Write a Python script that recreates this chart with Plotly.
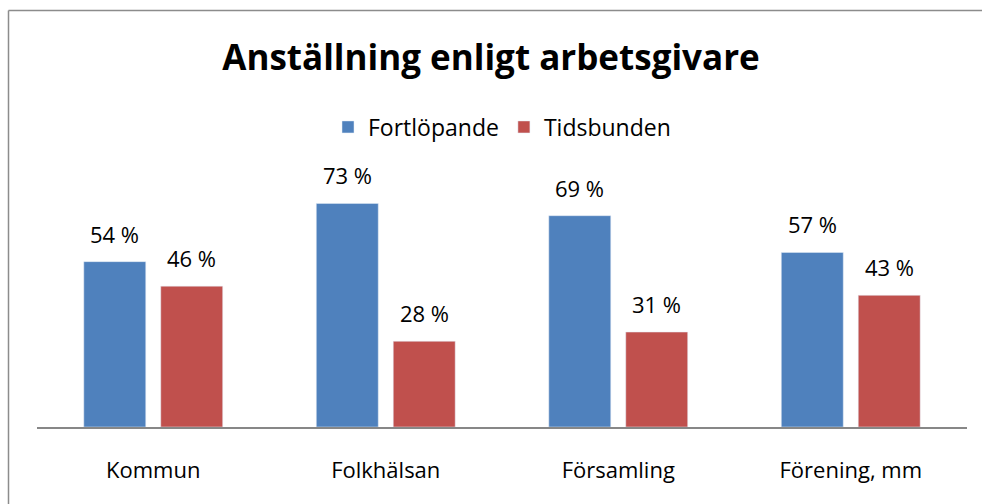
import plotly.graph_objects as go

# Data
categories = ["Kommun", "Folkhälsan", "Församling", "Förening, mm"]
fortlopande = [54, 73, 69, 57]
tidsbunden = [46, 28, 31, 43]
series_names = ["Fortlöpande", "Tidsbunden"]

BLUE = "#4F81BD"
RED = "#C0504D"
FONT = "'Open Sans', Lato, sans-serif"

W, H = 982, 504
ML, MR, MT, MB = 37, 15, 182, 77
PW, PH = W - ML - MR, H - MT - MB


def px_x(px):
    return (px - ML) / PW


def px_y(py):
    return (H - MB - py) / PH


fig = go.Figure()
fig.add_trace(go.Bar(x=categories, y=fortlopande, name=series_names[0],
                     marker_color=BLUE))
fig.add_trace(go.Bar(x=categories, y=tidsbunden, name=series_names[1],
                     marker_color=RED))

# value labels above each bar
for vals, shift in ((fortlopande, -38.5), (tidsbunden, 38.5)):
    for c, v in zip(categories, vals):
        fig.add_annotation(x=c, y=v, text=f"{v} %", showarrow=False,
                           xshift=shift, yshift=11, yanchor="bottom",
                           font=dict(size=22, color="#000000", family=FONT))

# chart frame
fig.add_shape(type="line", xref="paper", yref="paper",
              x0=px_x(8.5), x1=px_x(8.5), y0=px_y(10.5), y1=px_y(520),
              line=dict(color="#8C8C8C", width=1.5))
fig.add_shape(type="line", xref="paper", yref="paper",
              x0=px_x(8.5), x1=px_x(1000), y0=px_y(10.5), y1=px_y(10.5),
              line=dict(color="#8C8C8C", width=1.5))

fig.update_layout(
    width=W, height=H,
    margin=dict(l=ML, r=MR, t=MT, b=MB),
    paper_bgcolor="white", plot_bgcolor="white",
    barmode="group", bargap=0.338, bargroupgap=0.195,
    title=dict(text="<b>Anställning enligt arbetsgivare</b>",
               x=0.5, xanchor="center", y=1 - 58 / H, yanchor="middle",
               font=dict(size=35, color="#000000", family=FONT)),
    legend=dict(orientation="h", x=0.5, xanchor="center",
                y=px_y(127), yanchor="middle",
                font=dict(size=23, color="#000000", family=FONT),
                itemwidth=30, traceorder="normal"),
    xaxis=dict(showline=True, linecolor="#878787", linewidth=1.5,
               ticks="", showgrid=False, ticklabelstandoff=23,
               tickfont=dict(size=22, color="#000000", family=FONT)),
    yaxis=dict(range=[0, 80], visible=False, showgrid=False, zeroline=False),
    showlegend=True,
)

fig.write_html("out.html")
